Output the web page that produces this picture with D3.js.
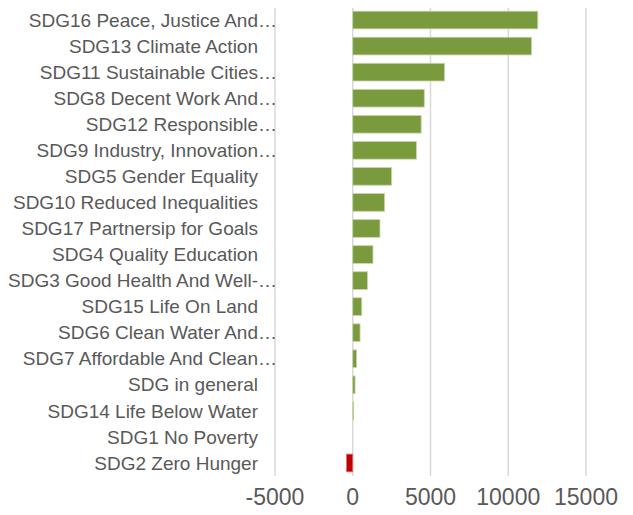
<!DOCTYPE html>
<html>
<head>
<meta charset="utf-8">
<script src="https://cdn.jsdelivr.net/npm/d3@7"></script>
<style>
  html, body { margin: 0; padding: 0; background: #fff; }
  svg text { font-family: "Liberation Sans", Arial, sans-serif; fill: #595959; }
</style>
</head>
<body>
<svg id="chart" width="633" height="515"></svg>
<script>
// categories, top to bottom (labels truncated the way the source shows them)
const categories = [
  "SDG16 Peace, Justice And…",
  "SDG13 Climate Action",
  "SDG11 Sustainable Cities…",
  "SDG8 Decent Work And…",
  "SDG12 Responsible…",
  "SDG9 Industry, Innovation…",
  "SDG5 Gender Equality",
  "SDG10 Reduced Inequalities",
  "SDG17 Partnersip for Goals",
  "SDG4 Quality Education",
  "SDG3 Good Health And Well-…",
  "SDG15 Life On Land",
  "SDG6 Clean Water And…",
  "SDG7 Affordable And Clean…",
  "SDG in general",
  "SDG14 Life Below Water",
  "SDG1 No Poverty",
  "SDG2 Zero Hunger"
];
const values = [11900, 11500, 5900, 4600, 4400, 4100, 2500, 2050, 1750, 1300, 950, 580, 470, 250, 150, 60, 0, -400];
const xTicks = [-5000, 0, 5000, 10000, 15000];

const svg = d3.select("#chart");
const plot = {left: 275, right: 586, top: 7, bottom: 476};

const x = d3.scaleLinear().domain([-5000, 15000]).range([plot.left, plot.right]);
const y = d3.scaleBand().domain(categories).range([plot.top, plot.bottom])
  .paddingInner(0.32).paddingOuter(0.16);

// vertical gridlines
svg.append("g").selectAll("line").data(xTicks).join("line")
  .attr("x1", d => x(d)).attr("x2", d => x(d))
  .attr("y1", plot.top + 1).attr("y2", plot.bottom)
  .attr("stroke", "#d9d9d9").attr("stroke-width", 1.5);

// bars
svg.append("g").selectAll("rect").data(categories).join("rect")
  .attr("x", (d, i) => x(Math.min(0, values[i])))
  .attr("y", d => y(d))
  .attr("width", (d, i) => Math.abs(x(values[i]) - x(0)))
  .attr("height", y.bandwidth())
  .attr("fill", (d, i) => values[i] < 0 ? "#c00000" : "#7a9a3e")
  .attr("stroke", (d, i) => values[i] < 0 ? "#e07070" : "#c9d6ae")
  .attr("stroke-width", 0.8);

// category labels: text right aligned, ellipsis hangs past the edge
const labelX = 258;
const labels = svg.append("g").selectAll("g").data(categories).join("g")
  .attr("transform", d => `translate(0,${y(d) + y.bandwidth() / 2})`);
labels.append("text")
  .attr("x", labelX).attr("dy", "0.35em")
  .attr("text-anchor", "end").attr("font-size", 19)
  .text(d => d.replace(/…$/, ""));
labels.filter(d => d.endsWith("…")).append("text")
  .attr("x", labelX).attr("dy", "0.35em")
  .attr("font-size", 19)
  .text("…");

// x axis tick labels
svg.append("g").selectAll("text").data(xTicks).join("text")
  .attr("x", d => x(d)).attr("y", 505)
  .attr("text-anchor", "middle").attr("font-size", 23)
  .text(d => d);
</script>
</body>
</html>
